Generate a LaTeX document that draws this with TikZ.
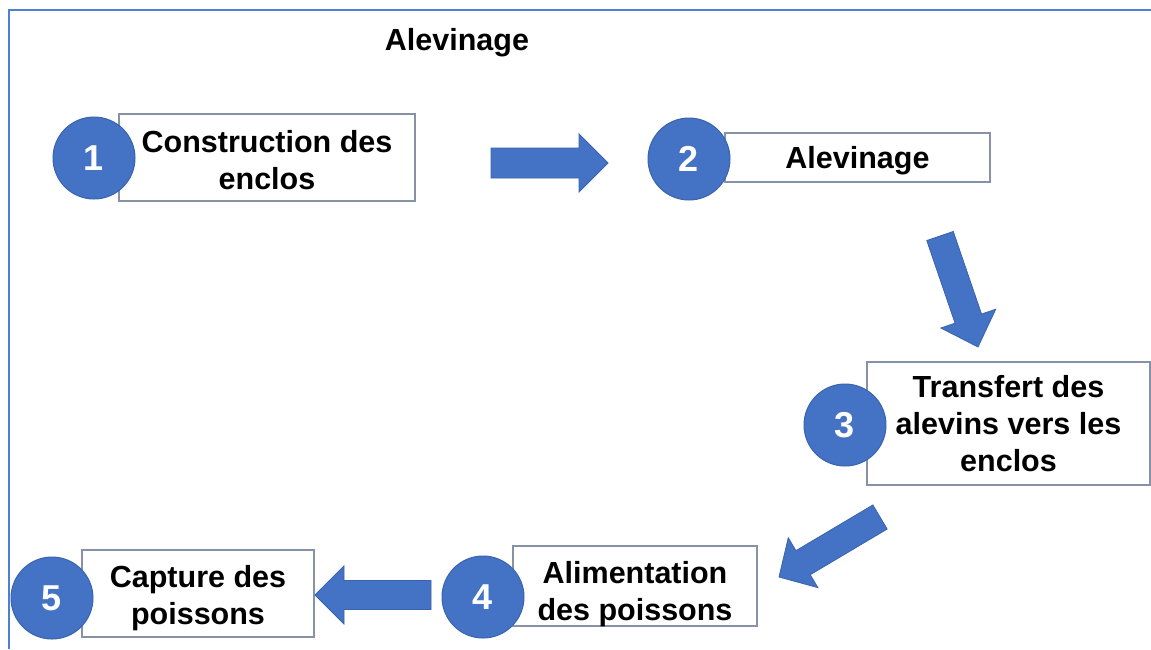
\documentclass[tikz,border=0pt]{standalone}
\usepackage{fontspec}
\setmainfont{Liberation Sans}
\usetikzlibrary{calc}

\definecolor{accent}{HTML}{4472C4}
\definecolor{accentdark}{HTML}{3A63AD}
\definecolor{boxline}{HTML}{8792A6}
\definecolor{frameblue}{HTML}{4F7FD3}

\newcommand\boxfont{\fontsize{30.5}{37}\selectfont\bfseries}
\newcommand\badgefont{\fontsize{36}{40}\selectfont\bfseries}

% Block arrow from tail #1 to tip #2: half shaft width #3, half head width #4, head length #5
\newcommand\blockarrow[5]{%
  \coordinate (hb) at ($(#2)!#5!(#1)$);
  \draw[flowarrow]
    ($(#1)!#3!90:(#2)$) -- ($(hb)!#3!90:(#2)$) -- ($(hb)!#4!90:(#2)$) --
    (#2) --
    ($(hb)!#4!-90:(#2)$) -- ($(hb)!#3!-90:(#2)$) -- ($(#1)!#3!-90:(#2)$) -- cycle;
}

\begin{document}
\begin{tikzpicture}[
  x=1pt, y=-1pt,
  stepbox/.style={draw=boxline, line width=1.3pt, fill=white, inner sep=0pt},
  boxtext/.style={align=center, inner sep=0pt, font=\boxfont, text=black},
  badge/.style={circle, fill=accent, draw=accentdark, line width=1pt,
    minimum size=82pt, inner sep=0pt, text=white, font=\badgefont},
  flowarrow/.style={fill=accent, draw=accentdark, line width=0.8pt, line join=miter},
  frameline/.style={draw=frameblue, line width=2pt},
  heading/.style={font=\boxfont, text=black, inner sep=0pt}
]
\useasboundingbox (0,0) rectangle (1151,649);

% frame lines along the top and left edges
\draw[frameline] (1151,10) -- (9,10) -- (9,649);

% title
\node[heading] (title) at (457,43) {Alevinage};

% step boxes
\node[stepbox, minimum width=296pt, minimum height=87pt] (box1) at (267,157.5) {};
\node[stepbox, minimum width=265pt, minimum height=49pt] (box2) at (857.5,157.5) {};
\node[stepbox, minimum width=283pt, minimum height=123pt] (box3) at (1008.5,423.5) {};
\node[stepbox, minimum width=244pt, minimum height=80pt] (box4) at (635,586) {};
\node[stepbox, minimum width=232pt, minimum height=87pt] (box5) at (198,593.5) {};

% box captions
\node[boxtext] (t1) at ([yshift=-2.5pt]box1.center) {Construction des\\enclos};
\node[boxtext] (t2) at ([yshift=-3.5pt]box2.center) {Alevinage};
\node[boxtext] (t3) at ([yshift=-0.5pt]box3.center) {Transfert des\\alevins vers les\\enclos};
\node[boxtext] (t4) at ([yshift=-8pt]box4.center) {Alimentation\\des poissons};
\node[boxtext] (t5) at ([yshift=-4.5pt]box5.center) {Capture des\\poissons};

% numbered badges
\node[badge] (n1) at (94,158) {1};
\node[badge] (n2) at (689,159) {2};
\node[badge] (n3) at (845,425) {3};
\node[badge] (n4) at (483,597) {4};
\node[badge] (n5) at (52,598) {5};

% arrow end points
\coordinate (a1s) at (491,163);
\coordinate (a1e) at (608,163);
\coordinate (a2s) at (940,236);
\coordinate (a2e) at (978,347);
\coordinate (a3s) at (880,517);
\coordinate (a3e) at (779,577);
\coordinate (a4s) at (431,595);
\coordinate (a4e) at (315,595);

% flow arrows
\blockarrow{a1s}{a1e}{15pt}{29pt}{29pt}
\blockarrow{a2s}{a2e}{14pt}{29pt}{30pt}
\blockarrow{a3s}{a3e}{14pt}{29pt}{28pt}
\blockarrow{a4s}{a4e}{14.5pt}{29pt}{29pt}
\end{tikzpicture}
\end{document}
